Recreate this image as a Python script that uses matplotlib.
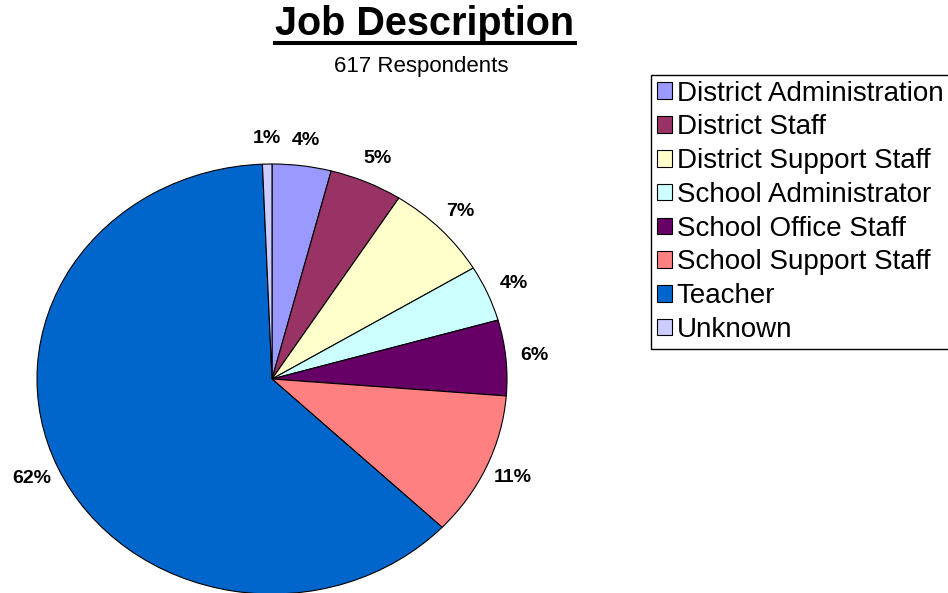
#!/usr/bin/env python
# -*- coding: utf-8 -*

import matplotlib
matplotlib.use('Agg')
import matplotlib.pyplot as plt
from matplotlib.lines import Line2D

plt.rcParams['font.family'] = ['Liberation Sans', 'DejaVu Sans']

# 职位类别
labels = ['District Administration', 'District Staff', 'District Support Staff',
          'School Administrator', 'School Office Staff', 'School Support Staff',
          'Teacher', 'Unknown']
# 人数 (共 617)
counts = [25, 31, 45, 26, 35, 67, 384, 4]
# 颜色
colors = ['#9999FF', '#993366', '#FFFFCC', '#CCFFFF', '#660066', '#FF8080',
          '#0066CC', '#CCCCFF']

fig = plt.figure(figsize=(9.48, 5.93), dpi=100)
W, H = 948., 593.

# 饼图 (横向略拉伸的椭圆)
cx, cy, rx, ry = 272., 379., 235., 215.
k = 1.3
ax = fig.add_axes([(cx - k * rx) / W, (H - cy - k * ry) / H, 2 * k * rx / W, 2 * k * ry / H])
wedges, texts, autotexts = ax.pie(
    counts, colors=colors, startangle=90, counterclock=False,
    autopct='%1.0f%%', pctdistance=1.12,
    wedgeprops=dict(edgecolor='black', linewidth=0.8),
    textprops=dict(fontsize=14, fontweight='bold', color='black'))
ax.set_aspect('auto')
ax.set_xlim(-k, k)
ax.set_ylim(-k, k)

# 标题
title = fig.text(425 / W, 1 - 35 / H, 'Job Description', ha='center', va='baseline',
                 fontsize=28.5, fontweight='bold')
fig.text(421 / W, 1 - 72 / H, '617 Respondents', ha='center', va='baseline', fontsize=16)

fig.canvas.draw()
bb = title.get_window_extent()
uy = (H - 42.5) / H
fig.add_artist(Line2D([bb.x0 / W, bb.x1 / W], [uy, uy], color='black', linewidth=2.9,
                      transform=fig.transFigure))

# 图例
leg = fig.legend(wedges, labels, loc='upper left', bbox_to_anchor=(651 / W, 1 - 75 / H),
                 bbox_transform=fig.transFigure, borderaxespad=0, fontsize=20,
                 frameon=True, fancybox=False, framealpha=1, edgecolor='black',
                 handlelength=0.54, handleheight=0.54, handletextpad=0.18,
                 labelspacing=0.28, borderpad=0.2)
leg.get_frame().set_linewidth(1.0)

fig.savefig('out.png', dpi=100)
